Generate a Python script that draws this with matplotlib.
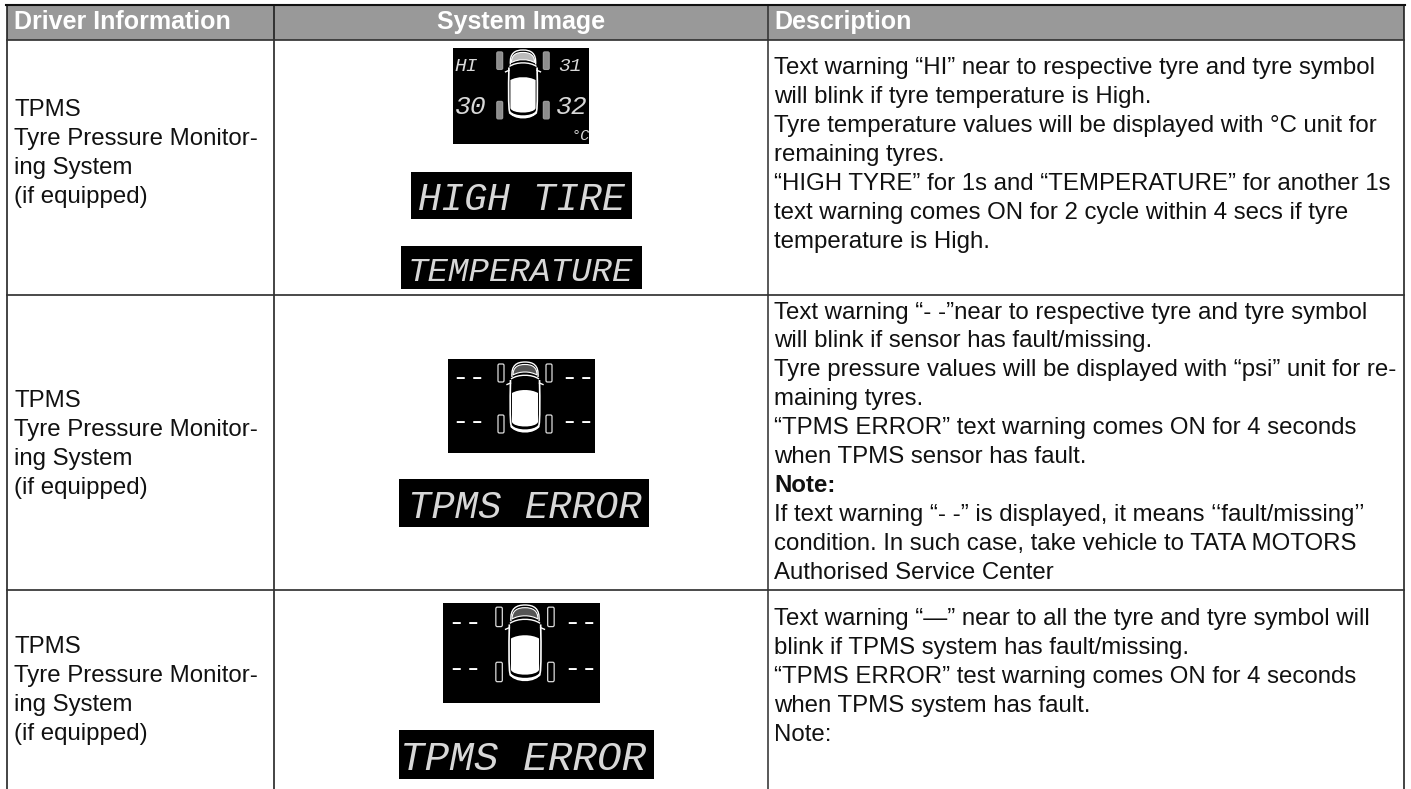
import matplotlib
matplotlib.use("Agg")
import matplotlib.pyplot as plt
from matplotlib.patches import Rectangle, FancyBboxPatch, PathPatch
from matplotlib.path import Path

# ---- table content ----
headers = ["Driver Information", "System Image", "Description"]
driver_info = ["TPMS", "Tyre Pressure Monitor-", "ing System", "(if equipped)"]
desc_row1 = [
    "Text warning “HI” near to respective tyre and tyre symbol",
    "will blink if tyre temperature is High.",
    "Tyre temperature values will be displayed with °C unit for",
    "remaining tyres.",
    "“HIGH TYRE” for 1s and “TEMPERATURE” for another 1s",
    "text warning comes ON for 2 cycle within 4 secs if tyre",
    "temperature is High.",
]
desc_row2 = [
    "Text warning “- -”near to respective tyre and tyre symbol",
    "will blink if sensor has fault/missing.",
    "Tyre pressure values will be displayed with “psi” unit for re-",
    "maining tyres.",
    "“TPMS ERROR” text warning comes ON for 4 seconds",
    "when TPMS sensor has fault.",
    "Note:",
    "If text warning “- -” is displayed, it means ‘‘fault/missing’’",
    "condition. In such case, take vehicle to TATA MOTORS",
    "Authorised Service Center",
]
desc_row3 = [
    "Text warning “—” near to all the tyre and tyre symbol will",
    "blink if TPMS system has fault/missing.",
    "“TPMS ERROR” test warning comes ON for 4 seconds",
    "when TPMS system has fault.",
    "Note:",
]
bold_lines = ["Note:"]
lcd_high = "HIGH TIRE"
lcd_temp = "TEMPERATURE"
lcd_error = "TPMS ERROR"
temps = ["HI", "31", "30", "32"]
temp_unit = "°C"
fault = "--"

W, H = 1411, 789
fig = plt.figure(figsize=(W / 100, H / 100), dpi=100, facecolor="white")
ax = fig.add_axes([0, 0, 1, 1])
ax.set_xlim(0, W)
ax.set_ylim(H, 0)
ax.axis("off")

SANS = "Liberation Sans"
MONO = "Liberation Mono"
BODY = 17.25
HEAD = 18.0
PITCH = 28.95
LCD = "#d8d8d8"

# header band and rules
ax.add_patch(Rectangle((7, 4.5), 1397, 35.5, fc="#999999", ec="none", zorder=1))
for x in (7, 274, 768, 1404):
    ax.plot([x, x], [4, H], color="#333333" if x == 768 else "#1a1a1a", lw=1.15, zorder=3, solid_capstyle="butt")
ax.plot([6, 1405], [4.5, 4.5], color="#111111", lw=1.5, zorder=3)
for y in (40, 295, 589.5):
    ax.plot([7, 1404], [y, y], color="#333333", lw=1.25, zorder=3)

ax.text(14.5, 28.8, headers[0], family=SANS, weight="bold", size=HEAD, color="white", zorder=4)
ax.text(521, 28.8, headers[1], family=SANS, weight="bold", size=HEAD, color="white", ha="center", zorder=4)
ax.text(774.5, 28.8, headers[2], family=SANS, weight="bold", size=HEAD, color="white", zorder=4)


def lines(x, y0, rows):
    for i, s in enumerate(rows):
        ax.text(x, y0 + i * PITCH, s, family=SANS, size=BODY, color="#111111", zorder=4,
                weight="bold" if s in bold_lines and rows is desc_row2 else "normal")


for y0 in (116, 407, 653):
    lines(14.5, y0, driver_info)
lines(774, 74, desc_row1)
lines(774, 318.5, desc_row2)
lines(774, 625, desc_row3)


def black(x0, x1, y0, y1):
    ax.add_patch(Rectangle((x0, y0), x1 - x0, y1 - y0, fc="black", ec="none", zorder=2))


def caps(xc, yc, s, size, ha="center"):
    # yc is the middle of the capital letters
    px = size / 0.72
    ax.text(xc, yc + 0.33 * px, s, family=MONO, style="italic", size=size, color=LCD,
            ha=ha, va="baseline", zorder=5)


def lcd(x0, x1, y0, y1, s, size, xc, yc):
    black(x0, x1, y0, y1)
    caps(xc, yc, s, size)


def curve(verts, codes, **kw):
    ax.add_patch(PathPatch(Path(verts, codes), zorder=5, **kw))


M, L, C, Z = Path.MOVETO, Path.LINETO, Path.CURVE4, Path.CLOSEPOLY


def car(cx, top, s, filled=False):
    X = lambda v: cx + v * s
    Y = lambda v: top + v * s
    line = dict(fc="none", ec="white", lw=1.0)
    # nose outline
    curve([(X(-13), Y(15)), (X(-14), Y(3)), (X(-8), Y(0)), (X(0), Y(0)),
           (X(8), Y(0)), (X(14), Y(3)), (X(13), Y(15))], [M, C, C, C, C, C, C], **line)
    # bonnet
    curve([(X(-12), Y(13)), (X(-12), Y(5)), (X(-7), Y(2.5)), (X(0), Y(2.5)),
           (X(7), Y(2.5)), (X(12), Y(5)), (X(12), Y(13)),
           (X(5), Y(9)), (X(-5), Y(9)), (X(-12), Y(13)), (X(-12), Y(13))],
          [M, C, C, C, C, C, C, C, C, C, Z], fc="#bbbbbb" if filled else "#555555", ec="white", lw=0.8)
    # body sides and tail
    curve([(X(-14.5), Y(18)), (X(-15), Y(40)), (X(-15), Y(58)), (X(-14), Y(63)),
           (X(-11), Y(72)), (X(11), Y(72)), (X(14), Y(63)),
           (X(15), Y(58)), (X(15), Y(40)), (X(14.5), Y(18))],
          [M, C, C, C, C, C, C, C, C, C], fc="none", ec="white", lw=1.2)
    # windscreen edge
    curve([(X(-14), Y(17)), (X(-7), Y(12)), (X(7), Y(12)), (X(14), Y(17))], [M, C, C, C], **line)
    # cabin
    curve([(X(-13), Y(31)), (X(-6), Y(27)), (X(6), Y(27)), (X(13), Y(31)),
           (X(13), Y(45)), (X(13), Y(50)), (X(13), Y(60)),
           (X(11), Y(66)), (X(-11), Y(66)), (X(-13), Y(60)),
           (X(-13), Y(50)), (X(-13), Y(45)), (X(-13), Y(31)), (X(-13), Y(31))],
          [M, C, C, C, C, C, C, C, C, C, C, C, C, Z], fc="white", ec="none")
    # tail highlight
    curve([(X(-14), Y(64)), (X(-9), Y(70)), (X(9), Y(70)), (X(14), Y(64))], [M, C, C, C],
          fc="none", ec="white", lw=1.6)
    # mirrors
    for sg in (-1, 1):
        ax.plot([X(sg * 14.5), X(sg * 18)], [Y(21), Y(22.5)], color="white", lw=1.0, zorder=5)
        for wy in (2, 53):
            ax.add_patch(FancyBboxPatch((X(sg * 24 - 3), Y(wy)), 6 * s, 18 * s,
                                        boxstyle=f"round,pad=0,rounding_size={1.4 * s}",
                                        fc="#8c8c8c" if filled else "black",
                                        ec="#999999" if filled else "#dddddd", lw=0.9, zorder=5))


def dash(x, y):
    # y is the height of the strokes; a hyphen sits about 0.2 em above the baseline
    ax.text(x, y + 1.8 + 0.23 * 21 / 0.72, fault, family=MONO, size=21, color="white",
            ha="center", va="baseline", zorder=5)


# row 1
black(453, 589, 48, 144)
car(523, 50, 0.97, filled=True)
caps(466, 65, temps[0], 14)
caps(570, 65, temps[1], 14)
caps(471, 105, temps[2], 19)
caps(572, 105, temps[3], 19)
caps(581, 135, temp_unit, 11)
lcd(411, 632, 172, 219, lcd_high, 27.5, 521, 197)
lcd(401, 642, 246, 289, lcd_temp, 24.6, 520.5, 269.5)

# row 2
black(448, 595, 359, 453)
car(525, 362, 1.0)
for x in (468.5, 577.5):
    for y in (377, 421):
        dash(x, y)
lcd(399, 649, 479, 527, lcd_error, 28, 524.5, 505.5)

# row 3
black(443, 600, 603, 703)
car(525, 605, 1.08)
for x in (465, 581):
    for y in (622, 668):
        dash(x, y)
lcd(399, 654, 730, 779, lcd_error, 29.5, 523.5, 756.5)

fig.savefig("out.png", dpi=100, facecolor="white")
